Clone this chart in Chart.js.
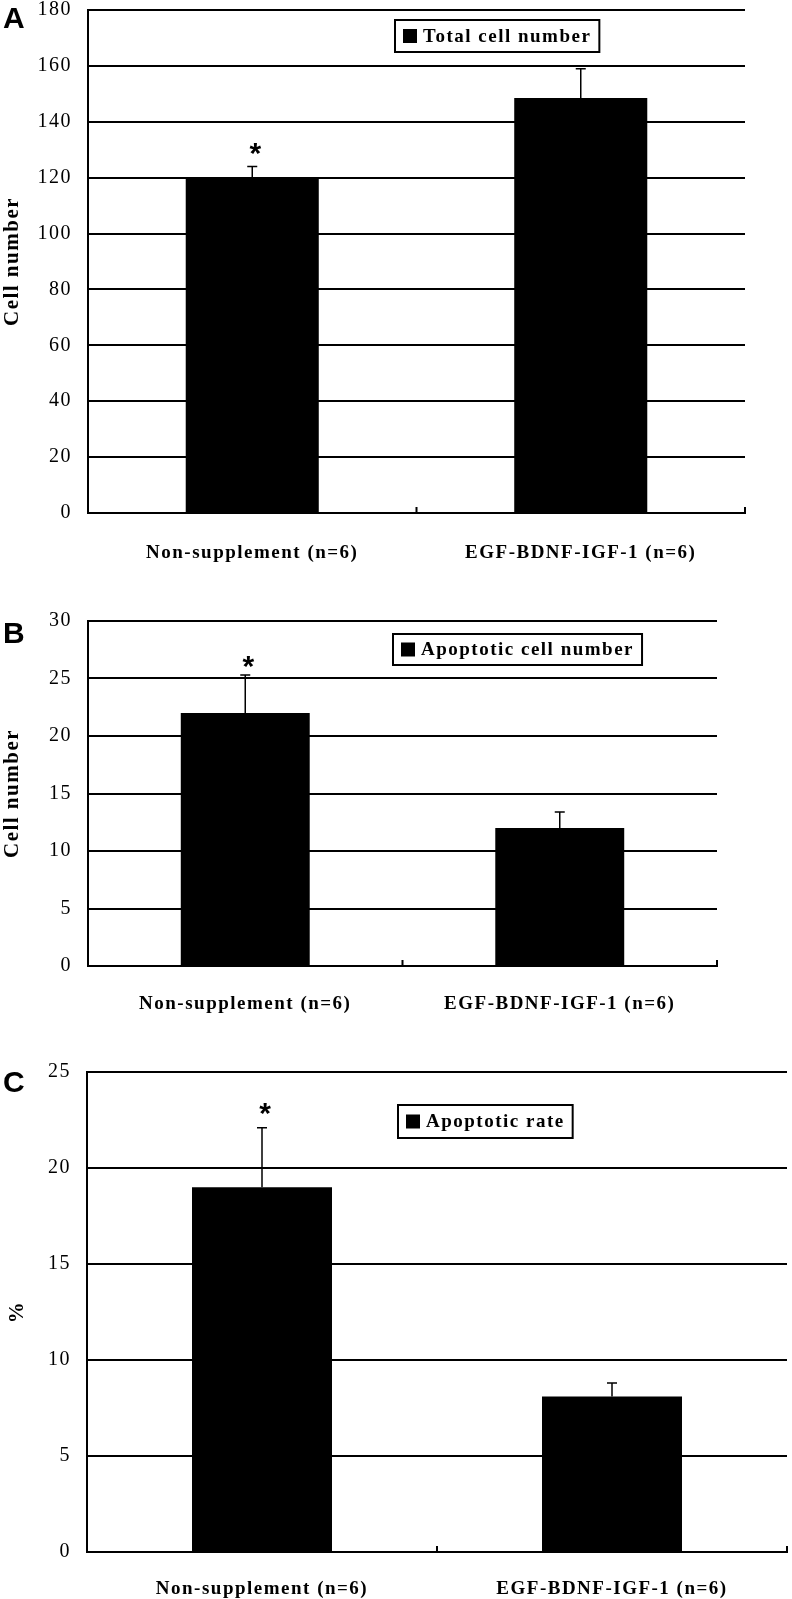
<!DOCTYPE html>
<html>
<head>
<meta charset="utf-8">
<script src="https://cdn.jsdelivr.net/npm/chart.js@4/dist/chart.umd.min.js"></script>
<style>
  body { margin: 0; background: #fff; }
  #wrap { position: relative; width: 792px; height: 1599px; overflow: hidden; }
  canvas { position: absolute; left: 0; }
</style>
</head>
<body>
<div id="wrap">
  <canvas id="panel-a" width="792" height="588" style="top:-18px"></canvas>
  <canvas id="panel-b" width="792" height="450" style="top:575px"></canvas>
  <canvas id="panel-c" width="792" height="574" style="top:1025px"></canvas>
</div>
<script>
// groups on the x axis
const categories = ['Non-supplement (n=6)', 'EGF-BDNF-IGF-1 (n=6)'];

// A: total cell number (mean, upper error)
const totalCellMean = [120, 148.5];
const totalCellErr = [4, 10.5];

// B: apoptotic cell number
const apoptoticCellMean = [22, 12];
const apoptoticCellErr = [3.3, 1.4];

// C: apoptotic rate (%)
const apoptoticRateMean = [19, 8.1];
const apoptoticRateErr = [3.1, 0.7];

// which group gets the asterisk
const significant = [true, false];

// y axis ranges
const yMaxA = 180, yStepA = 20;
const yMaxB = 30, yStepB = 5;
const yMaxC = 25, yStepC = 5;

Chart.defaults.font.family = "'Liberation Serif', 'Times New Roman', serif";
Chart.defaults.color = '#000';

const SPACING = '1.5px';

const panelDecor = {
    id: 'panelDecor',
    beforeLayout(chart) {
        chart.ctx.letterSpacing = SPACING;
    },
    beforeDraw(chart) {
        chart.ctx.letterSpacing = SPACING;
    },
    afterDatasetsDraw(chart, args, o) {
        const ctx = chart.ctx;
        const yScale = chart.scales.y;
        const area = chart.chartArea;
        const bars = chart.getDatasetMeta(0).data;
        const values = chart.data.datasets[0].data;

        ctx.save();
        ctx.strokeStyle = '#000';
        ctx.lineWidth = 1.5;
        bars.forEach((bar, i) => {
            const top = yScale.getPixelForValue(values[i] + o.errors[i]);
            ctx.beginPath();
            ctx.moveTo(bar.x, bar.y);
            ctx.lineTo(bar.x, top);
            ctx.moveTo(bar.x - 5, top);
            ctx.lineTo(bar.x + 5, top);
            ctx.stroke();

            if (o.stars[i]) {
                ctx.font = 'bold 30px "Liberation Sans", Arial, sans-serif';
                ctx.letterSpacing = '0px';
                ctx.textAlign = 'center';
                ctx.textBaseline = 'alphabetic';
                const m = ctx.measureText('*');
                const cy = top - o.starGap;
                ctx.fillStyle = '#000';
                ctx.fillText('*', bar.x + 3, cy + (m.actualBoundingBoxAscent - m.actualBoundingBoxDescent) / 2);
            }
        });

        // small category separators on the x axis
        const n = chart.data.labels.length;
        const step = (area.right - area.left) / n;
        ctx.lineWidth = 2;
        ctx.beginPath();
        for (let i = 1; i <= n; i++) {
            const x = area.left + step * i;
            ctx.moveTo(x, area.bottom);
            ctx.lineTo(x, area.bottom - 6);
        }
        ctx.stroke();
        ctx.restore();
    },
    afterDraw(chart, args, o) {
        const ctx = chart.ctx;
        ctx.save();

        // legend box
        ctx.font = 'bold 19px "Liberation Serif", "Times New Roman", serif';
        ctx.letterSpacing = SPACING;
        const text = chart.data.datasets[0].label;
        const w = 30 + ctx.measureText(text).width + 6;
        const h = o.legendH;
        ctx.fillStyle = '#fff';
        ctx.fillRect(o.legendX, o.legendY, w, h);
        ctx.strokeStyle = '#000';
        ctx.lineWidth = 2;
        ctx.strokeRect(o.legendX, o.legendY, w, h);
        ctx.fillStyle = '#000';
        ctx.fillRect(o.legendX + 8, o.legendY + h / 2 - 7, 14, 14);
        ctx.textAlign = 'left';
        ctx.textBaseline = 'middle';
        ctx.fillText(text, o.legendX + 28, o.legendY + h / 2 + 1);

        // panel letter
        ctx.letterSpacing = '0px';
        ctx.font = 'bold 30px "Liberation Sans", Arial, sans-serif';
        ctx.textBaseline = 'alphabetic';
        ctx.fillText(o.letter, 3, o.letterY);
        ctx.restore();
    }
};

function makePanel(id, cfg) {
    const canvas = document.getElementById(id);
    return new Chart(canvas, {
        type: 'bar',
        data: {
            labels: categories,
            datasets: [{
                label: cfg.legend,
                data: cfg.values,
                backgroundColor: '#000',
                borderWidth: 0,
                categoryPercentage: 1,
                barPercentage: cfg.barPct,
            }],
        },
        options: {
            responsive: false,
            animation: false,
            devicePixelRatio: 1,
            layout: { padding: { top: cfg.padTop, right: cfg.padRight, left: 0, bottom: 0 } },
            plugins: {
                legend: { display: false },
                tooltip: { enabled: false },
                panelDecor: {
                    letter: cfg.letter,
                    letterY: cfg.letterY,
                    errors: cfg.errors,
                    stars: significant,
                    starGap: cfg.starGap,
                    legendX: cfg.legendX,
                    legendY: cfg.legendY,
                    legendH: cfg.legendH,
                },
            },
            scales: {
                x: {
                    grid: { display: true, drawOnChartArea: false, drawTicks: false },
                    border: { display: true, color: '#000', width: 2 },
                    ticks: {
                        color: '#000',
                        font: { size: 19, weight: 'bold' },
                        padding: cfg.labelPad,
                        maxRotation: 0,
                        autoSkip: false,
                    },
                    afterFit: (scale) => { scale.height = cfg.xHeight; },
                },
                y: {
                    min: 0,
                    max: cfg.max,
                    ticks: { stepSize: cfg.step, color: '#000', font: { size: 20 }, padding: 16 },
                    grid: { color: '#000', lineWidth: 2, drawTicks: false },
                    border: { display: true, color: '#000', width: 2 },
                    title: {
                        display: true,
                        text: cfg.yTitle,
                        color: '#000',
                        font: { size: 21, weight: 'bold' },
                        padding: { top: cfg.titlePad, bottom: 0 },
                    },
                    afterFit: (scale) => { scale.width = cfg.left; },
                },
            },
        },
        plugins: [panelDecor],
    });
}

makePanel('panel-a', {
    legend: 'Total cell number', values: totalCellMean, errors: totalCellErr,
    max: yMaxA, step: yStepA, yTitle: 'Cell number', titlePad: 0, letter: 'A', letterY: 46,
    padTop: 28, padRight: 47, left: 88, xHeight: 57, labelPad: 29, barPct: 0.405,
    starGap: 17, legendX: 395, legendY: 38, legendH: 32,
});

makePanel('panel-b', {
    legend: 'Apoptotic cell number', values: apoptoticCellMean, errors: apoptoticCellErr,
    max: yMaxB, step: yStepB, yTitle: 'Cell number', titlePad: 0, letter: 'B', letterY: 68,
    padTop: 46, padRight: 75, left: 88, xHeight: 59, labelPad: 27, barPct: 0.41,
    starGap: 13, legendX: 393, legendY: 59, legendH: 31,
});

makePanel('panel-c', {
    legend: 'Apoptotic rate', values: apoptoticRateMean, errors: apoptoticRateErr,
    max: yMaxC, step: yStepC, yTitle: '%', titlePad: 5, letter: 'C', letterY: 67,
    padTop: 47, padRight: 5, left: 87, xHeight: 47, labelPad: 26, barPct: 0.40,
    starGap: 19, legendX: 398, legendY: 80, legendH: 33,
});
</script>
</body>
</html>
